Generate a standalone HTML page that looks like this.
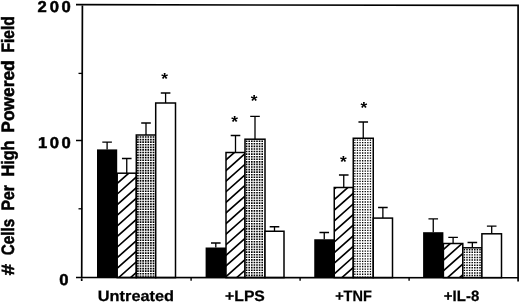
<!DOCTYPE html>
<html><head><meta charset="utf-8"><title>chart</title>
<style>html,body{margin:0;padding:0;background:#fff}svg{display:block;filter:grayscale(1)}text{text-rendering:geometricPrecision;font-family:"Liberation Sans",sans-serif;font-weight:bold;fill:#000}</style></head>
<body>
<svg width="520" height="304" viewBox="0 0 520 304">
<defs>
</defs>
<rect width="520" height="304" fill="#fff"/>
<rect x="97.0" y="149.4" width="20.20" height="128.20" fill="#000"/>
<path d="M107.10,149.4V142.1M102.30,142.1H111.90" stroke="#000" stroke-width="1.3" fill="none"/>
<clipPath id="c1"><rect x="117.2" y="173.2" width="19.10" height="104.40"/></clipPath>
<rect x="117.2" y="173.2" width="19.10" height="104.40" fill="#fff"/>
<path d="M115.20,164.07L138.30,143.51M115.20,174.67L138.30,154.11M115.20,185.27L138.30,164.71M115.20,195.87L138.30,175.31M115.20,206.47L138.30,185.91M115.20,217.07L138.30,196.51M115.20,227.67L138.30,207.11M115.20,238.27L138.30,217.71M115.20,248.87L138.30,228.31M115.20,259.47L138.30,238.91M115.20,270.07L138.30,249.51M115.20,280.67L138.30,260.11M115.20,291.27L138.30,270.71M115.20,301.87L138.30,281.31M115.20,312.47L138.30,291.91" stroke="#000" stroke-width="1.65" fill="none" clip-path="url(#c1)"/>
<rect x="117.2" y="173.2" width="19.10" height="104.40" fill="none" stroke="#000" stroke-width="1.5"/>
<path d="M126.75,173.2V158.5M121.95,158.5H131.55" stroke="#000" stroke-width="1.3" fill="none"/>
<rect x="136.3" y="135.0" width="19.40" height="142.60" fill="#fff"/>
<path d="M137.90,136.20V276.80M140.50,136.20V276.80M143.10,136.20V276.80M145.70,136.20V276.80M148.30,136.20V276.80M150.90,136.20V276.80M153.50,136.20V276.80" stroke="#000" stroke-width="1.65" stroke-dasharray="1.65 0.93" fill="none"/>
<rect x="136.3" y="135.0" width="19.40" height="142.60" fill="none" stroke="#000" stroke-width="1.5"/>
<path d="M146.00,135.0V123.0M141.20,123.0H150.80" stroke="#000" stroke-width="1.3" fill="none"/>
<rect x="155.7" y="103.0" width="19.80" height="174.60" fill="#fff" stroke="#000" stroke-width="1.5"/>
<path d="M165.60,103.0V93.0M160.80,93.0H170.40" stroke="#000" stroke-width="1.3" fill="none"/>
<rect x="205.6" y="247.5" width="20.40" height="30.10" fill="#000"/>
<path d="M215.80,247.5V243.0M211.00,243.0H220.60" stroke="#000" stroke-width="1.3" fill="none"/>
<clipPath id="c5"><rect x="226.0" y="152.5" width="19.00" height="125.10"/></clipPath>
<rect x="226.0" y="152.5" width="19.00" height="125.10" fill="#fff"/>
<path d="M224.00,140.54L247.00,120.07M224.00,151.14L247.00,130.67M224.00,161.74L247.00,141.27M224.00,172.34L247.00,151.87M224.00,182.94L247.00,162.47M224.00,193.54L247.00,173.07M224.00,204.14L247.00,183.67M224.00,214.74L247.00,194.27M224.00,225.34L247.00,204.87M224.00,235.94L247.00,215.47M224.00,246.54L247.00,226.07M224.00,257.14L247.00,236.67M224.00,267.74L247.00,247.27M224.00,278.34L247.00,257.87M224.00,288.94L247.00,268.47M224.00,299.54L247.00,279.07M224.00,310.14L247.00,289.67" stroke="#000" stroke-width="1.65" fill="none" clip-path="url(#c5)"/>
<rect x="226.0" y="152.5" width="19.00" height="125.10" fill="none" stroke="#000" stroke-width="1.5"/>
<path d="M235.50,152.5V135.5M230.70,135.5H240.30" stroke="#000" stroke-width="1.3" fill="none"/>
<rect x="245.0" y="139.2" width="20.00" height="138.40" fill="#fff"/>
<path d="M246.60,140.40V276.80M249.20,140.40V276.80M251.80,140.40V276.80M254.40,140.40V276.80M257.00,140.40V276.80M259.60,140.40V276.80M262.20,140.40V276.80" stroke="#000" stroke-width="1.6" stroke-dasharray="1.6 0.98" fill="none"/>
<rect x="245.0" y="139.2" width="20.00" height="138.40" fill="none" stroke="#000" stroke-width="1.5"/>
<path d="M255.00,139.2V116.3M250.20,116.3H259.80" stroke="#000" stroke-width="1.3" fill="none"/>
<rect x="265.0" y="231.25" width="19.00" height="46.35" fill="#fff" stroke="#000" stroke-width="1.5"/>
<path d="M274.50,231.25V226.75M269.70,226.75H279.30" stroke="#000" stroke-width="1.3" fill="none"/>
<rect x="314.25" y="239.25" width="20.00" height="38.35" fill="#000"/>
<path d="M324.25,239.25V232.5M319.45,232.5H329.05" stroke="#000" stroke-width="1.3" fill="none"/>
<clipPath id="c9"><rect x="334.25" y="187.5" width="19.00" height="90.10"/></clipPath>
<rect x="334.25" y="187.5" width="19.00" height="90.10" fill="#fff"/>
<path d="M332.25,169.60L355.25,149.13M332.25,180.20L355.25,159.73M332.25,190.80L355.25,170.33M332.25,201.40L355.25,180.93M332.25,212.00L355.25,191.53M332.25,222.60L355.25,202.13M332.25,233.20L355.25,212.73M332.25,243.80L355.25,223.33M332.25,254.40L355.25,233.93M332.25,265.00L355.25,244.53M332.25,275.60L355.25,255.13M332.25,286.20L355.25,265.73M332.25,296.80L355.25,276.33M332.25,307.40L355.25,286.93" stroke="#000" stroke-width="1.65" fill="none" clip-path="url(#c9)"/>
<rect x="334.25" y="187.5" width="19.00" height="90.10" fill="none" stroke="#000" stroke-width="1.5"/>
<path d="M343.75,187.5V175.0M338.95,175.0H348.55" stroke="#000" stroke-width="1.3" fill="none"/>
<rect x="353.25" y="138.25" width="20.00" height="139.35" fill="#fff"/>
<path d="M354.85,139.45V276.80M357.45,139.45V276.80M360.05,139.45V276.80M362.65,139.45V276.80M365.25,139.45V276.80M367.85,139.45V276.80M370.45,139.45V276.80" stroke="#000" stroke-width="1.3" stroke-dasharray="1.3 1.28" fill="none"/>
<rect x="353.25" y="138.25" width="20.00" height="139.35" fill="none" stroke="#000" stroke-width="1.5"/>
<path d="M363.25,138.25V122.0M358.45,122.0H368.05" stroke="#000" stroke-width="1.3" fill="none"/>
<rect x="373.25" y="218.1" width="19.25" height="59.50" fill="#fff" stroke="#000" stroke-width="1.5"/>
<path d="M382.88,218.1V207.5M378.07,207.5H387.68" stroke="#000" stroke-width="1.3" fill="none"/>
<rect x="423.1" y="232.2" width="20.30" height="45.40" fill="#000"/>
<path d="M433.25,232.2V218.8M428.45,218.8H438.05" stroke="#000" stroke-width="1.3" fill="none"/>
<clipPath id="c13"><rect x="443.4" y="243.5" width="19.40" height="34.10"/></clipPath>
<rect x="443.4" y="243.5" width="19.40" height="34.10" fill="#fff"/>
<path d="M441.40,230.15L464.80,209.33M441.40,240.75L464.80,219.93M441.40,251.35L464.80,230.53M441.40,261.95L464.80,241.13M441.40,272.55L464.80,251.73M441.40,283.15L464.80,262.33M441.40,293.75L464.80,272.93M441.40,304.35L464.80,283.53M441.40,314.95L464.80,294.13" stroke="#000" stroke-width="1.65" fill="none" clip-path="url(#c13)"/>
<rect x="443.4" y="243.5" width="19.40" height="34.10" fill="none" stroke="#000" stroke-width="1.5"/>
<path d="M453.10,243.5V237.3M448.30,237.3H457.90" stroke="#000" stroke-width="1.3" fill="none"/>
<rect x="462.8" y="247.8" width="19.10" height="29.80" fill="#fff"/>
<path d="M464.40,249.00V276.80M467.00,249.00V276.80M469.60,249.00V276.80M472.20,249.00V276.80M474.80,249.00V276.80M477.40,249.00V276.80M480.00,249.00V276.80" stroke="#000" stroke-width="1.45" stroke-dasharray="1.45 1.13" fill="none"/>
<rect x="462.8" y="247.8" width="19.10" height="29.80" fill="none" stroke="#000" stroke-width="1.5"/>
<path d="M472.35,247.8V242.5M467.55,242.5H477.15" stroke="#000" stroke-width="1.3" fill="none"/>
<rect x="481.9" y="233.8" width="19.60" height="43.80" fill="#fff" stroke="#000" stroke-width="1.5"/>
<path d="M491.70,233.8V226.2M486.90,226.2H496.50" stroke="#000" stroke-width="1.3" fill="none"/>
<path d="M76,4.7L518.1,5.4V281.6M82.39999999999999,4.7L81.69999999999999,280.90000000000003M76,277.5L518.1,277.75" stroke="#000" stroke-width="1.7" fill="none" stroke-linejoin="miter"/>
<path d="M76,140.50H82.1" stroke="#000" stroke-width="1.5"/>
<path d="M78.5,73.40H82.1" stroke="#000" stroke-width="1.3"/>
<path d="M78.5,208.80H82.1" stroke="#000" stroke-width="1.3"/>
<path d="M191.10,277.6V280.8" stroke="#000" stroke-width="1.4"/>
<path d="M300.10,277.6V280.8" stroke="#000" stroke-width="1.4"/>
<path d="M409.10,277.6V280.8" stroke="#000" stroke-width="1.4"/>
<text transform="translate(42.2,12.2) scale(1.06,1)" font-size="15.7" stroke="#000" stroke-width="0.5" text-anchor="middle">2</text>
<text transform="translate(54.3,12.2) scale(1.06,1)" font-size="15.7" stroke="#000" stroke-width="0.5" text-anchor="middle">0</text>
<text transform="translate(66.2,12.2) scale(1.06,1)" font-size="15.7" stroke="#000" stroke-width="0.5" text-anchor="middle">0</text>
<text transform="translate(42.6,147.6) scale(1.06,1)" font-size="15.7" stroke="#000" stroke-width="0.5" text-anchor="middle">1</text>
<text transform="translate(54.3,147.6) scale(1.06,1)" font-size="15.7" stroke="#000" stroke-width="0.5" text-anchor="middle">0</text>
<text transform="translate(66.2,147.6) scale(1.06,1)" font-size="15.7" stroke="#000" stroke-width="0.5" text-anchor="middle">0</text>
<text transform="translate(63.9,284.9) scale(1.06,1)" font-size="15.7" stroke="#000" stroke-width="0.5" text-anchor="middle">0</text>
<text transform="translate(98.8,301.4) scale(1.0891,1.0000) translate(-0.900,0)" font-size="15" stroke="#000" stroke-width="0.25">Untreated</text>
<text transform="translate(225.75,301.4) scale(1.0485,1.0000) translate(-0.630,0)" font-size="15" stroke="#000" stroke-width="0.25">+LPS</text>
<text transform="translate(335.75,301.4) scale(0.9664,1.0000) translate(-0.630,0)" font-size="15" stroke="#000" stroke-width="0.25">+TNF</text>
<text transform="translate(444.5,301.4) scale(0.9975,1.0000) translate(-0.630,0)" font-size="15" stroke="#000" stroke-width="0.25">+IL-8</text>
<text transform="translate(164.6,84.2) scale(1.08,1)" font-size="16" text-anchor="middle">*</text>
<text transform="translate(234.5,126.9) scale(1.08,1)" font-size="16" text-anchor="middle">*</text>
<text transform="translate(254.2,106.10000000000001) scale(1.08,1)" font-size="16" text-anchor="middle">*</text>
<text transform="translate(343.4,166.6) scale(1.08,1)" font-size="16" text-anchor="middle">*</text>
<text transform="translate(363.85,113.30000000000001) scale(1.08,1)" font-size="16" text-anchor="middle">*</text>
<text transform="translate(13.8,275.0) rotate(-90) scale(1.2548,1.1150) translate(-0.272,0)" font-size="16" stroke="#000" stroke-width="0.5">#</text>
<text transform="translate(13.8,254.6) rotate(-90) scale(0.9505,1.1150) translate(-0.656,0)" font-size="16" stroke="#000" stroke-width="0.5">Cells</text>
<text transform="translate(13.8,209.5) rotate(-90) scale(0.9804,1.1150) translate(-1.072,0)" font-size="16" stroke="#000" stroke-width="0.5">Per</text>
<text transform="translate(13.8,175.5) rotate(-90) scale(1.0153,1.1150) translate(-1.072,0)" font-size="16" stroke="#000" stroke-width="0.5">High</text>
<text transform="translate(13.8,131.5) rotate(-90) scale(1.0843,1.1150) translate(-1.072,0)" font-size="16" stroke="#000" stroke-width="0.5">Powered</text>
<text transform="translate(13.8,51.5) rotate(-90) scale(0.9711,1.1150) translate(-1.072,0)" font-size="16" stroke="#000" stroke-width="0.5">Field</text>
</svg></body></html>
